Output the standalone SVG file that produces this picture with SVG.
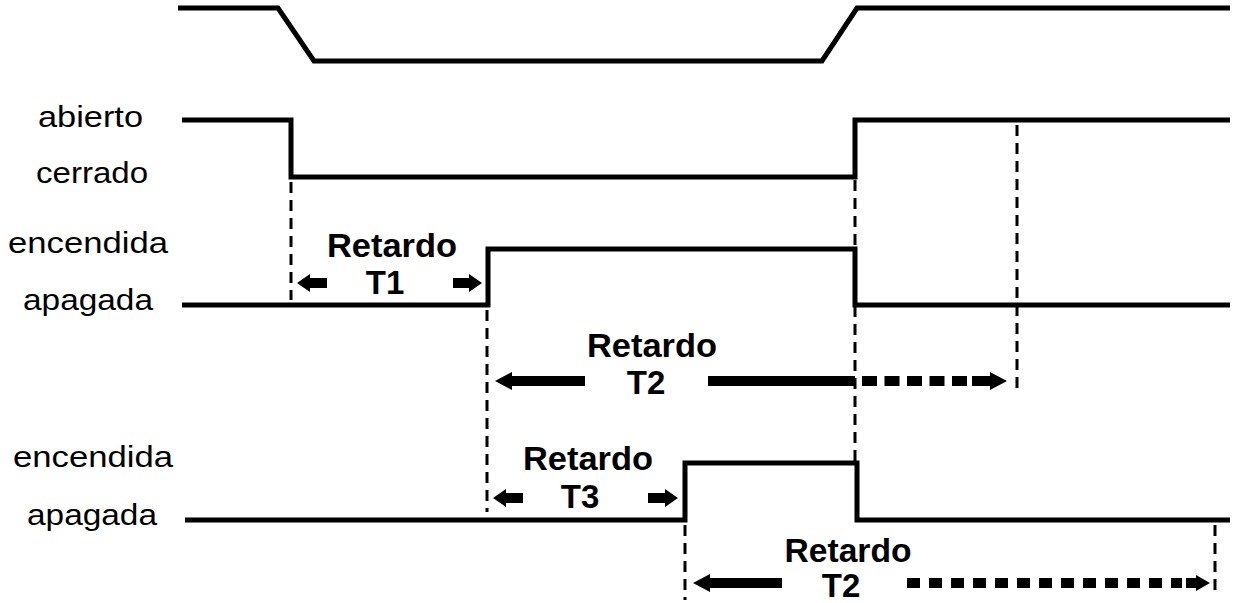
<svg xmlns="http://www.w3.org/2000/svg" width="1238" height="603" viewBox="0 0 1238 603">
<style>
.wave{fill:none;stroke:#000;stroke-width:5;stroke-linejoin:miter}
.dash{fill:none;stroke:#000;stroke-width:3;stroke-dasharray:11 7}
.lbl{font-family:"Liberation Sans",Arial,sans-serif;font-size:30px;fill:#000}
.bold{font-family:"Liberation Sans",Arial,sans-serif;font-size:33px;font-weight:bold;fill:#000;text-anchor:middle}
.arr{fill:#000}
.dots{fill:none;stroke:#000;stroke-width:10}
</style>
<rect width="1238" height="603" fill="#fff"/>
<g id="signal-top">
<polyline class="wave" stroke-width="4" points="178,8 278,8 314,61 822,61 857,8 1230,8"/>
</g>
<g id="signal-door">
<text class="lbl" x="38" y="127" textLength="105" lengthAdjust="spacingAndGlyphs">abierto</text>
<text class="lbl" x="36" y="183" textLength="112" lengthAdjust="spacingAndGlyphs">cerrado</text>
<polyline class="wave" points="182,120 291,120 291,177 855,177 855,120 1230,120"/>
</g>
<g id="signal-light1">
<text class="lbl" x="8" y="253" textLength="160" lengthAdjust="spacingAndGlyphs">encendida</text>
<text class="lbl" x="23" y="310" textLength="130" lengthAdjust="spacingAndGlyphs">apagada</text>
<polyline class="wave" points="182,305 488,305 488,249 855,249 855,305 1230,305"/>
</g>
<g id="signal-light2">
<text class="lbl" x="13" y="467" textLength="160" lengthAdjust="spacingAndGlyphs">encendida</text>
<text class="lbl" x="27" y="525" textLength="130" lengthAdjust="spacingAndGlyphs">apagada</text>
<polyline class="wave" points="185,520 685,520 685,463 857,463 857,520 1230,520"/>
</g>
<g id="connectors">
<line class="dash" x1="291" y1="182" x2="291" y2="300"/>
<line class="dash" x1="487" y1="310" x2="487" y2="512"/>
<line class="dash" x1="855" y1="180" x2="855" y2="462"/>
<line class="dash" x1="1017" y1="125" x2="1017" y2="392"/>
<line class="dash" x1="685" y1="525" x2="685" y2="600"/>
<line class="dash" x1="1215" y1="525" x2="1215" y2="596"/>
<polygon class="arr" points="297,283 310,274 310,278 327,278 327,288 310,288 310,292"/>
<polygon class="arr" points="482,283 469,274 469,278 453,278 453,288 469,288 469,292"/>
<polygon class="arr" points="493,498 506,489 506,493 523,493 523,503 506,503 506,507"/>
<polygon class="arr" points="678,498 665,489 665,493 648,493 648,503 665,503 665,507"/>
<polygon class="arr" points="495,381 512,372 512,376 585,376 585,386 512,386 512,390"/>
<rect class="arr" x="708" y="376" width="147" height="10"/>
<line class="dots" x1="862" y1="381" x2="968" y2="381" stroke-dasharray="15 7.5"/>
<polygon class="arr" points="1007,381 990,372 990,376 972,376 972,386 990,386 990,390"/>
<polygon class="arr" points="693,583 710,574 710,578 782,578 782,588 710,588 710,592"/>
<line class="dots" x1="907" y1="583" x2="1182" y2="583" stroke-dasharray="13 9"/>
<polygon class="arr" points="1210,583 1196,575 1196,578 1186,578 1186,588 1196,588 1196,591"/>
</g>
<g id="labels">
<text class="bold" x="392" y="257" textLength="130" lengthAdjust="spacingAndGlyphs">Retardo</text>
<text class="bold" x="385" y="294">T1</text>
<text class="bold" x="652" y="357" textLength="130" lengthAdjust="spacingAndGlyphs">Retardo</text>
<text class="bold" x="646" y="394">T2</text>
<text class="bold" x="588" y="470" textLength="130" lengthAdjust="spacingAndGlyphs">Retardo</text>
<text class="bold" x="580" y="508">T3</text>
<text class="bold" x="848" y="562" textLength="127" lengthAdjust="spacingAndGlyphs">Retardo</text>
<text class="bold" x="841" y="597">T2</text>
</g>
</svg>
